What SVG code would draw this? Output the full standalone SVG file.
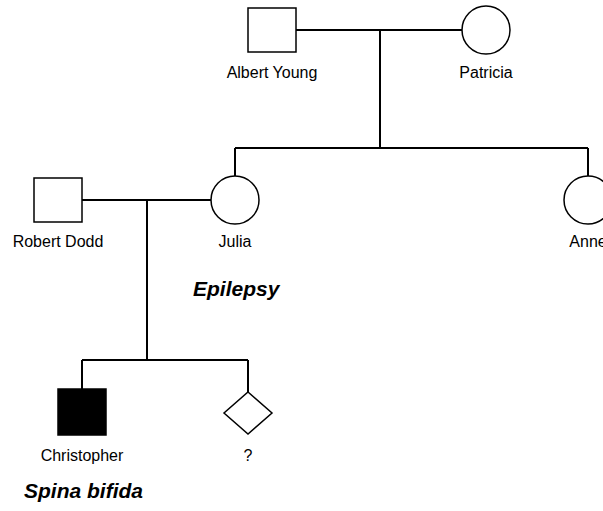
<svg xmlns="http://www.w3.org/2000/svg" width="603" height="511" viewBox="0 0 603 511">
<style>
.shape{fill:#fff;stroke:#000;stroke-width:1.5}
.affected{fill:#000;stroke:#000;stroke-width:1.5}
.line{fill:none;stroke:#000;stroke-width:2}
.lbl{font-family:"Liberation Sans",Arial,sans-serif;font-size:16px;fill:#000;text-anchor:middle}
.cond{font-family:"Liberation Sans",Arial,sans-serif;font-size:21px;font-weight:bold;font-style:italic;fill:#000}
</style>
<rect width="603" height="511" fill="#fff"/>
<g id="connectors">
<path class="line" d="M296 30H462"/>
<path class="line" d="M380 30V148"/>
<path class="line" d="M235 148H588"/>
<path class="line" d="M235 148V176"/>
<path class="line" d="M588 148V176"/>
<path class="line" d="M82 200H211"/>
<path class="line" d="M147 200V360"/>
<path class="line" d="M82 360H248"/>
<path class="line" d="M82 360V389"/>
<path class="line" d="M248 360V392"/>
</g>
<g id="albert"><rect class="shape" x="248" y="8" width="48" height="44"/><text class="lbl" x="272" y="78">Albert Young</text></g>
<g id="patricia"><circle class="shape" cx="486" cy="30" r="24"/><text class="lbl" x="486" y="78">Patricia</text></g>
<g id="robert"><rect class="shape" x="34" y="178" width="48" height="44"/><text class="lbl" x="58" y="247">Robert Dodd</text></g>
<g id="julia"><circle class="shape" cx="235" cy="200" r="24"/><text class="lbl" x="235" y="247">Julia</text></g>
<g id="anne"><circle class="shape" cx="588" cy="200" r="24"/><text class="lbl" x="588" y="247">Anne</text></g>
<g id="christopher"><rect class="affected" x="58" y="389" width="48" height="46"/><text class="lbl" x="82" y="461">Christopher</text></g>
<g id="unknown"><polygon class="shape" points="248,392 272,413 248,434 224,413"/><text class="lbl" x="248" y="461">?</text></g>
<g id="conditions"><text class="cond" x="193" y="296">Epilepsy</text><text class="cond" x="24" y="498">Spina bifida</text></g>
</svg>
